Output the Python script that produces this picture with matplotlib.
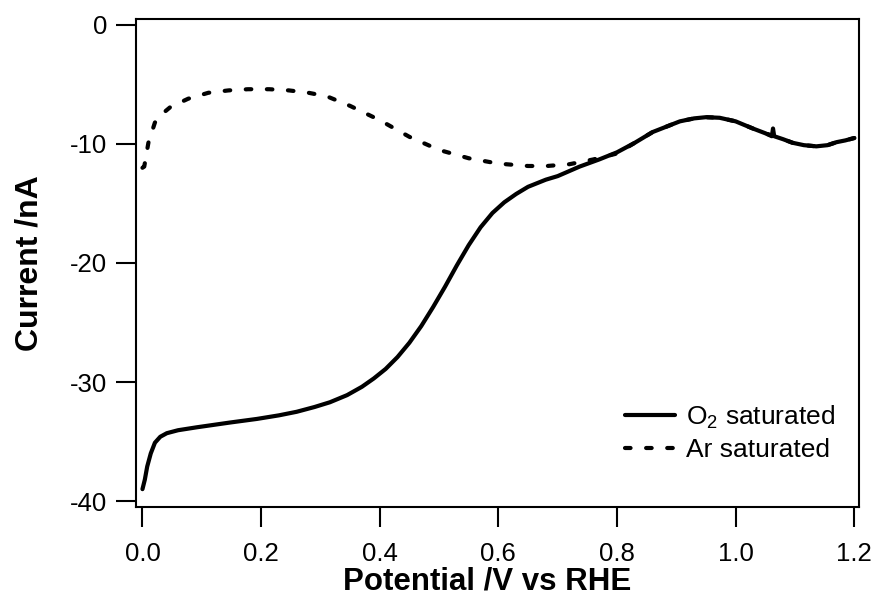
import numpy as np
import matplotlib as mpl
mpl.use('Agg')
import matplotlib.pyplot as plt

mpl.rcParams.update({
    "font.family": "Liberation Sans",
    "mathtext.fontset": "custom",
    "mathtext.rm": "Liberation Sans",
    "mathtext.it": "Liberation Sans:italic",
    "mathtext.bf": "Liberation Sans:bold",
    "axes.unicode_minus": False,
    "axes.linewidth": 1.5,
    "lines.scale_dashes": False,
})

# O2 saturated sweep (potential in V vs RHE, current in nA)
o2_potential = [0.0, 0.004, 0.008, 0.014, 0.021, 0.03, 0.041, 0.06, 0.092, 0.12, 0.148,
                0.193, 0.23, 0.26, 0.29, 0.316, 0.345, 0.37, 0.39, 0.41, 0.43, 0.45,
                0.47, 0.49, 0.51, 0.53, 0.55, 0.57, 0.59, 0.61, 0.63, 0.65, 0.68,
                0.7, 0.737, 0.77, 0.8, 0.83, 0.86, 0.906, 0.93, 0.95, 0.973, 1.0,
                1.029, 1.05, 1.061, 1.063, 1.065, 1.08, 1.096, 1.115, 1.136, 1.155,
                1.17, 1.185, 1.2]
o2_current = [-39.0, -38.2, -37.1, -36.0, -35.1, -34.6, -34.3, -34.05, -33.8, -33.6, -33.4,
              -33.1, -32.8, -32.5, -32.1, -31.7, -31.1, -30.4, -29.7, -28.9, -27.9, -26.7,
              -25.3, -23.7, -22.0, -20.2, -18.5, -17.0, -15.8, -14.9, -14.2, -13.6, -13.0,
              -12.7, -11.9, -11.3, -10.7, -9.9, -9.0, -8.1, -7.85, -7.75, -7.8, -8.1,
              -8.7, -9.1, -9.35, -8.7, -9.35, -9.6, -9.9, -10.1, -10.2, -10.1,
              -9.85, -9.7, -9.5]

# Ar saturated sweep
ar_potential = [0.0, 0.003, 0.01, 0.021, 0.035, 0.047, 0.077, 0.111, 0.145, 0.178, 0.214,
                0.247, 0.28, 0.311, 0.35, 0.4, 0.45, 0.5, 0.55, 0.6, 0.65, 0.682, 0.72,
                0.76, 0.8, 0.83, 0.86, 0.906, 0.93, 0.95, 0.973, 1.0, 1.029, 1.05,
                1.08, 1.096, 1.115, 1.136, 1.155, 1.17, 1.185, 1.2]
ar_current = [-12.0, -11.9, -9.9, -8.2, -7.4, -6.9, -6.2, -5.7, -5.5, -5.4, -5.4,
              -5.5, -5.7, -6.0, -6.8, -8.0, -9.4, -10.5, -11.2, -11.65, -11.85, -11.85, -11.7,
              -11.3, -10.8, -9.9, -9.0, -8.1, -7.85, -7.75, -7.8, -8.1, -8.7, -9.1,
              -9.6, -9.9, -10.1, -10.2, -10.1, -9.85, -9.7, -9.5]

x_ticks = [0.0, 0.2, 0.4, 0.6, 0.8, 1.0, 1.2]
y_ticks = [0, -10, -20, -30, -40]

fig = plt.figure(figsize=(8.77, 6.01), dpi=100)
ax = fig.add_axes([0.155, 0.1564, 0.8245, 0.812])

ax.plot(o2_potential, o2_current, color='black', lw=3.0,
        solid_capstyle='round', solid_joinstyle='round', label='O$_2$ saturated')
ax.plot(ar_potential, ar_current, color='black', lw=3.0, dashes=(4.0, 11.2),
        dash_capstyle='round', label='Ar saturated')

ax.set_xlim(-0.011, 1.208)
ax.set_ylim(-40.5, 0.5)
ax.set_xticks(x_ticks)
ax.set_xticklabels(['%.1f' % v for v in x_ticks])
ax.set_yticks(y_ticks)
ax.tick_params(direction='out', length=14.4, width=1.5, labelsize=18.5)
ax.tick_params(axis='x', pad=11)
ax.tick_params(axis='y', pad=6.5)
ax.tick_params(top=False, right=False)

ax.set_xlabel('Potential /V vs RHE', fontsize=22.5, fontweight='bold')
ax.set_ylabel('Current /nA', fontsize=23, fontweight='bold')
ax.xaxis.set_label_coords(0.4855, -0.121)
ax.yaxis.set_label_coords(-0.127, 0.5)

ax.legend(loc='upper left', bbox_to_anchor=(0.662, 0.234), frameon=False,
          fontsize=19, handlelength=1.9, handletextpad=0.42, labelspacing=0.3,
          borderaxespad=0)

fig.savefig('out.png', dpi=100)
